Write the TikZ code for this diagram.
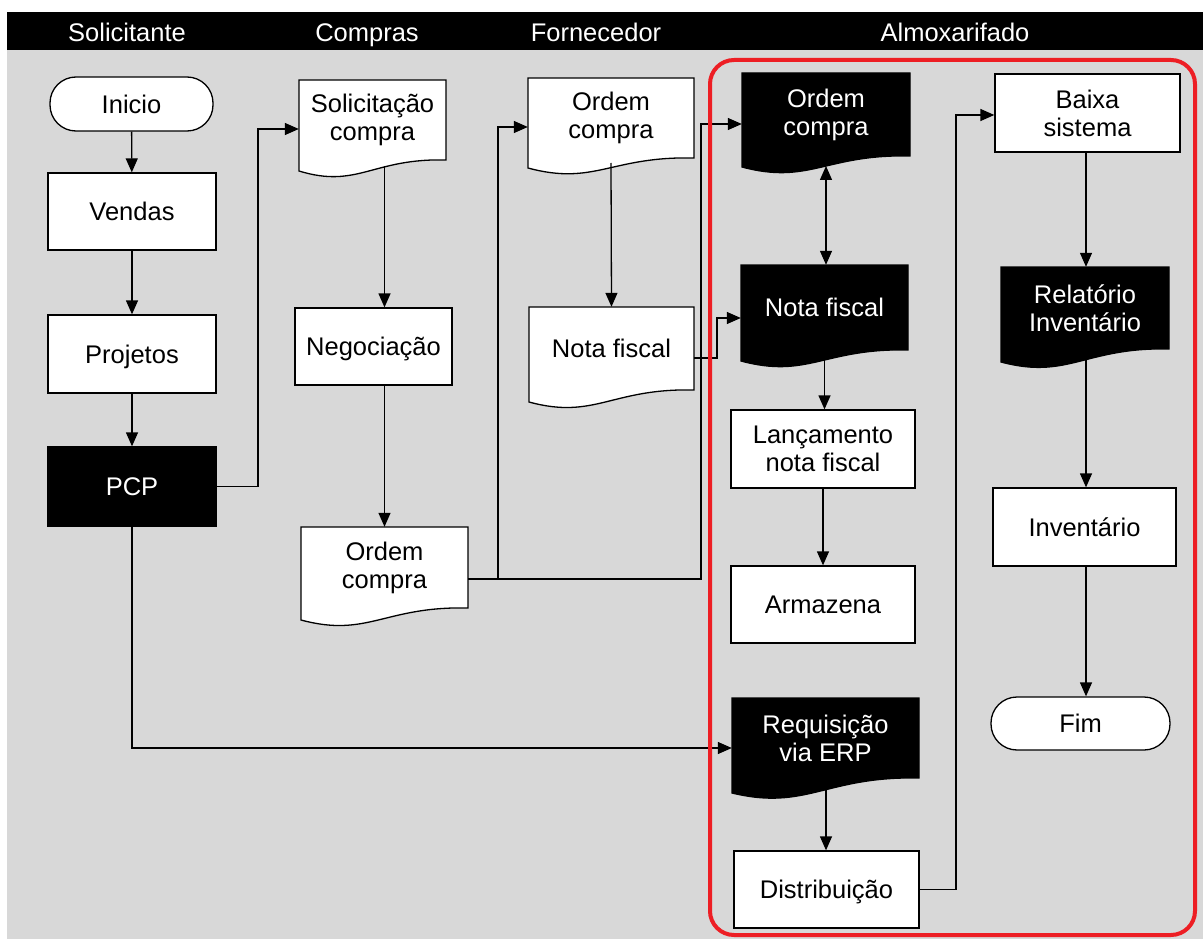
\documentclass[tikz,border=0pt]{standalone}
\usepackage{fontspec}
\setmainfont{Liberation Sans}
\usetikzlibrary{arrows.meta}
\newcommand\fsz{\fontsize{25.5}{28}\selectfont}
\definecolor{bggray}{RGB}{216,216,216}
\definecolor{hlred}{RGB}{237,30,36}
\newcommand\docbox[9]{% #1 name, #2 L, #3 T, #4 R, #5 Yr, #6 Yl, #7 fill, #8 text colour, #9 text
  \pgfmathsetmacro\dbw{#4-#2}\pgfmathsetmacro\dbh{#5-#3}%
  \pgfmathsetmacro\dbcx{(#2+#4)/2}\pgfmathsetmacro\dbcy{(#3+#5)/2}%
  \pgfmathsetmacro\dbca{#4-0.5*\dbw}\pgfmathsetmacro\dbcb{#2+0.4*\dbw}%
  \draw[docline, fill=#7] (#2,#3) -- (#4,#3) -- (#4,#5) .. controls (\dbca,#5-2) and (\dbcb,#6+18) .. (#2,#6) -- cycle;
  \node[doctext, text=#8, minimum width=\dbw pt, minimum height=\dbh pt] (#1) at (\dbcx,\dbcy) {#9};
}
\begin{document}
\begin{tikzpicture}[x=1pt,y=-1pt,
  box/.style={draw=black, line width=1.3pt, fill=white, text=black, align=center, inner sep=0pt, font=\fsz},
  blackbox/.style={box, fill=black, text=white},
  stadium/.style={box, rounded corners=26pt},
  nodepth/.style={text depth=0pt},
  docline/.style={draw=black, line width=1.3pt},
  doctext/.style={draw=none, fill=none, align=center, inner sep=0pt, font=\fsz},
  arr/.style={draw=black, line width=1.3pt, -{Triangle[length=14pt,width=12pt]}},
  arrboth/.style={draw=black, line width=1.3pt, {Triangle[length=14pt,width=12pt]}-{Triangle[length=14pt,width=12pt]}},
  lane/.style={text=white, font=\fsz, anchor=base},
  frame/.style={draw=hlred, line width=4pt, rounded corners=24pt}
]
\useasboundingbox (0,0) rectangle (1203,939);
\fill[white] (0,0) rectangle (1203,939);
\fill[bggray] (7,50) rectangle (1203,939);
\fill[black] (7,12) rectangle (1203,50);

\node[lane] (l1) at (127,42) {Solicitante};
\node[lane] (l2) at (367,42) {Compras};
\node[lane] (l3) at (596,42) {Fornecedor};
\node[lane] (l4) at (955,42) {Almoxarifado};

% Solicitante
\node[stadium, minimum width=163pt, minimum height=54pt] (inicio) at (131.5,104) {Inicio};
\node[box, minimum width=168pt, minimum height=77pt] (vendas) at (132,211.5) {Vendas};
\node[box, nodepth, minimum width=168pt, minimum height=78pt] (projetos) at (132,354) {Projetos};
\node[blackbox, minimum width=168pt, minimum height=79pt] (pcp) at (132,486.5) {PCP};

% Compras
\docbox{sol}{299}{80}{446}{160}{171}{white}{black}{Solicitação\\compra}
\node[box, nodepth, minimum width=157pt, minimum height=77pt] (neg) at (373.5,346.5) {Negociação};
\docbox{oc1}{301}{527}{468}{608}{620}{white}{black}{Ordem\\compra}

% Fornecedor
\docbox{ocf}{528}{78}{694}{158}{168}{white}{black}{Ordem\\compra}
\docbox{nff}{529}{307}{694}{390}{402}{white}{black}{Nota fiscal}

% Almoxarifado
\docbox{ocb}{742}{73}{910}{156}{167}{black}{white}{Ordem\\compra}
\docbox{nfb}{741}{265}{908}{350}{361}{black}{white}{Nota fiscal}
\node[box, minimum width=184pt, minimum height=78pt] (lanc) at (823,449) {Lançamento\\nota fiscal};
\node[box, minimum width=184pt, minimum height=77pt] (arm) at (823,604.5) {Armazena};
\docbox{req}{732}{698}{919}{778}{793}{black}{white}{Requisição\\via ERP}
\node[box, nodepth, minimum width=185pt, minimum height=77pt] (dist) at (826.5,889.5) {Distribuição};
\node[box, minimum width=185pt, minimum height=78pt] (baixa) at (1087.5,113) {Baixa\\sistema};
\docbox{rel}{1001}{267}{1169}{349}{362}{black}{white}{Relatório\\Inventário}
\node[box, minimum width=183pt, minimum height=78pt] (inv) at (1084.5,527) {Inventário};
\node[stadium, minimum width=179pt, minimum height=53pt] (fim) at (1080.5,723.5) {Fim};

% free ends on the wavy bottoms
\coordinate (solb) at (384.5,166);
\coordinate (ocfb) at (611,163);
\coordinate (ocbb) at (826,166);
\coordinate (nfbb) at (824.5,357);
\coordinate (reqb) at (826,789);
\coordinate (relb) at (1086,357);
\coordinate (j1) at (498,579);

% connectors
\draw[arr] (inicio) -- (vendas);
\draw[arr] (vendas) -- (projetos);
\draw[arr] (projetos) -- (pcp);
\draw[arr] (pcp.east) -| (258,129) -- (sol.west |- 0,129);
\draw[arr] (solb) -- (neg.north -| solb);
\draw[arr] (neg.south -| oc1.north) -- (oc1.north);
\draw[arr] (oc1.east |- j1) -| (701,124) -- (ocb.west |- 0,124);
\draw[arr] (j1) -- (498,127) -- (ocf.west |- 0,127);
\draw[arr] (ocfb) -- (nff.north);
\draw[arr] (nff.east |- 0,358) -| (717,318) -- (nfb.west |- 0,318);
\draw[arrboth] (ocbb) -- (nfb.north -| ocbb);
\draw[arr] (nfbb) -- (lanc.north -| nfbb);
\draw[arr] (lanc) -- (arm);
\draw[arr] (pcp.south) |- (req.west |- 0,748);
\draw[arr] (reqb) -- (dist.north -| reqb);
\draw[arr] (dist.east) -| (956,115) -- (baixa.west |- 0,115);
\draw[arr] (baixa.south -| relb) -- (rel.north -| relb);
\draw[arr] (relb) -- (inv.north -| relb);
\draw[arr] (inv.south -| relb) -- (fim.north -| relb);

% highlight frame
\draw[frame] (710,60) rectangle (1195,935);
\end{tikzpicture}
\end{document}
